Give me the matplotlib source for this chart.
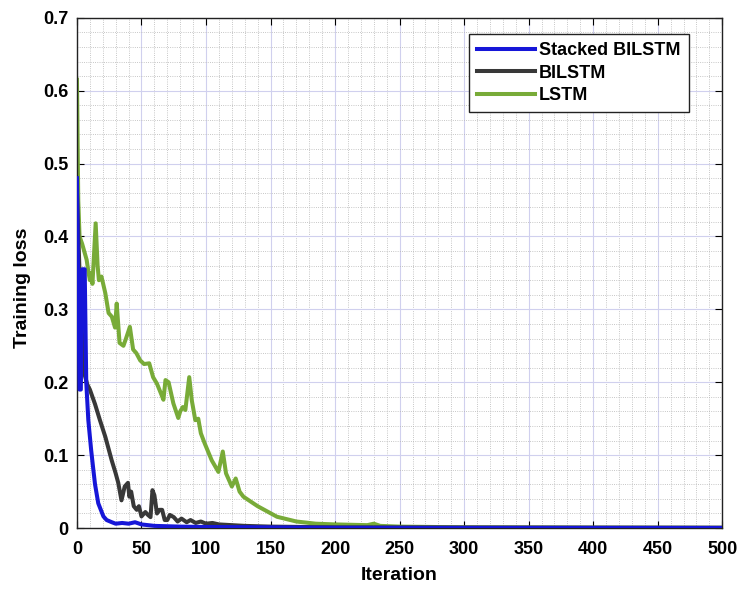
import matplotlib
matplotlib.use('Agg')
import matplotlib.pyplot as plt
from matplotlib.ticker import MultipleLocator

# iteration / loss points
stacked_it = [0, 1, 2, 3, 4, 6, 7.2, 8.8, 11, 12.7, 14, 16.5, 20.5, 23, 27, 30, 35, 40, 45, 50, 55, 60, 80, 100,
              150, 200, 300, 500]
stacked_loss = [0.48, 0.33, 0.19, 0.19, 0.355, 0.355, 0.2, 0.148, 0.107, 0.08, 0.06, 0.034, 0.016, 0.011, 0.008,
                0.006, 0.007, 0.006, 0.008, 0.005, 0.004, 0.003, 0.002, 0.0015, 0.001, 0.0005, 0.0003, 0.0002]

bilstm_it = [0, 2, 4, 6, 8, 10, 14, 17.8, 22, 26.9, 30, 32, 34.5, 37, 39.5, 40.6, 42, 44, 46.3, 48, 50, 53, 55, 57,
             58.5, 60, 62, 64, 66, 68, 70, 72, 75, 78, 81, 85, 88, 92, 96, 100, 105, 110, 120, 130, 150, 200, 300, 500]
bilstm_loss = [0.46, 0.35, 0.26, 0.21, 0.197, 0.19, 0.17, 0.148, 0.125, 0.093, 0.075, 0.062, 0.038, 0.057, 0.062,
               0.043, 0.05, 0.03, 0.025, 0.03, 0.016, 0.022, 0.018, 0.015, 0.052, 0.045, 0.02, 0.025, 0.025, 0.011,
               0.011, 0.018, 0.015, 0.009, 0.013, 0.008, 0.011, 0.007, 0.009, 0.006, 0.007, 0.005, 0.004, 0.003,
               0.002, 0.001, 0.0008, 0.0005]

lstm_it = [0, 1, 2, 4, 7.5, 9, 10, 11, 12, 14.5, 16, 17, 19, 22, 24.5, 27, 29.5, 30.8, 33, 36, 38, 41, 43.5, 46, 49,
           52, 56, 59, 62, 65, 67, 68.6, 71, 74.7, 78.5, 80, 82, 84, 87, 89, 91.7, 94, 96, 99, 104.4, 109.6, 113,
           115.5, 120, 123, 126, 129, 140, 155, 170, 185, 200, 225, 230, 235, 250, 300, 400, 500]
lstm_loss = [0.615, 0.45, 0.40, 0.39, 0.368, 0.35, 0.34, 0.35, 0.335, 0.418, 0.36, 0.34, 0.345, 0.322, 0.295, 0.29,
             0.275, 0.308, 0.254, 0.25, 0.26, 0.276, 0.245, 0.24, 0.23, 0.225, 0.226, 0.207, 0.198, 0.185, 0.176,
             0.203, 0.2, 0.171, 0.151, 0.16, 0.166, 0.162, 0.207, 0.175, 0.148, 0.15, 0.13, 0.116, 0.093, 0.077,
             0.105, 0.075, 0.057, 0.068, 0.05, 0.043, 0.03, 0.0155, 0.009, 0.006, 0.005, 0.004, 0.006, 0.003, 0.002,
             0.001, 0.0005, 0.0003]

xticks = list(range(0, 501, 50))
yticks = [0, 0.1, 0.2, 0.3, 0.4, 0.5, 0.6, 0.7]
ytick_labels = ['0', '0.1', '0.2', '0.3', '0.4', '0.5', '0.6', '0.7']

plt.rcParams['font.family'] = ['Liberation Sans', 'DejaVu Sans']
plt.rcParams['font.weight'] = 'bold'

fig = plt.figure(figsize=(7.4, 5.92), dpi=100)
ax = fig.add_axes([0.104, 0.108, 0.872, 0.862])

ax.plot(stacked_it, stacked_loss, color='#1616d8', linewidth=2.9, label='Stacked BILSTM', zorder=4)
ax.plot(bilstm_it, bilstm_loss, color='#383838', linewidth=2.9, label='BILSTM', zorder=3)
ax.plot(lstm_it, lstm_loss, color='#78ab38', linewidth=2.9, label='LSTM', zorder=2)

ax.set_xlim(0, 500)
ax.set_ylim(0, 0.7)
ax.set_xticks(xticks)
ax.set_yticks(yticks)
ax.set_yticklabels(ytick_labels)
ax.xaxis.set_minor_locator(MultipleLocator(10))
ax.yaxis.set_minor_locator(MultipleLocator(0.02))
ax.grid(which='major', color='#d0d0ee', linewidth=0.8)
ax.grid(which='minor', color='#b4b4b4', linestyle=':', linewidth=0.6)
ax.set_axisbelow(True)

ax.tick_params(which='major', direction='in', top=True, right=True, length=5, labelsize=13)
ax.tick_params(axis='x', pad=9)
ax.tick_params(axis='y', pad=6)
ax.tick_params(which='minor', length=0)
for sp in ax.spines.values():
    sp.set_linewidth(1.0)
    sp.set_color('#222222')

ax.set_xlabel('Iteration', fontsize=14, fontweight='bold', labelpad=7)
ax.set_ylabel('Training loss', fontsize=14, fontweight='bold')
ax.yaxis.set_label_coords(-0.071, 0.47)

leg = ax.legend(loc='upper right', bbox_to_anchor=(0.948, 0.968), fontsize=13, fancybox=False,
                edgecolor='#222222', framealpha=1, handlelength=3.2, handletextpad=0.25,
                labelspacing=0.3, borderpad=0.45, borderaxespad=0)
leg.get_frame().set_linewidth(1.0)

plt.savefig('out.png', dpi=100)
